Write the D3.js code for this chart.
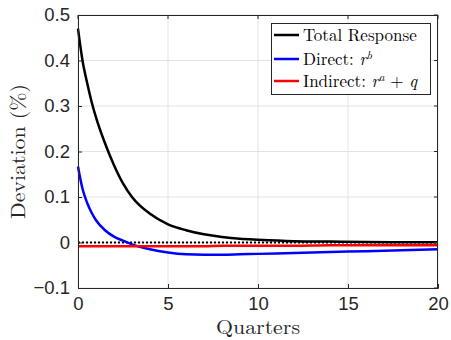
<!DOCTYPE html>
<html>
<head>
<meta charset="utf-8">
<script src="https://cdn.jsdelivr.net/npm/d3@7"></script>
<style>
  body { margin: 0; background: #fff; }
  svg { display: block; }
</style>
</head>
<body>
<div id="wrapper"></div>
<script>
// Data
const quarters = [0, 0.25, 0.5, 0.75, 1, 1.5, 2, 2.5, 3, 4, 5, 6, 7, 8, 9, 10, 12, 14, 16, 18, 20]
const totalResponse = [0.470, 0.400, 0.352, 0.310, 0.275, 0.218, 0.170, 0.130, 0.100, 0.063, 0.040, 0.027, 0.018, 0.012, 0.008, 0.006, 0.003, 0.002, 0.001, 0.0006, 0.0003]
const directResponse = [0.167, 0.118, 0.088, 0.066, 0.049, 0.027, 0.013, 0.004, -0.004, -0.015, -0.022, -0.026, -0.027, -0.027, -0.026, -0.025, -0.023, -0.021, -0.019, -0.017, -0.015]
const indirectResponse = [-0.008, -0.008, -0.008, -0.008, -0.008, -0.008, -0.008, -0.008, -0.008, -0.008, -0.008, -0.008, -0.008, -0.007, -0.007, -0.007, -0.007, -0.006, -0.006, -0.006, -0.006]
const xTicks = [0, 5, 10, 15, 20]
const yTicks = [-0.1, 0, 0.1, 0.2, 0.3, 0.4, 0.5]

const seriesNames = ["Total Response", "Direct", "Indirect"]
const seriesColors = ["#000000", "#0000ff", "#ff0000"]

function drawChart() {
  const dimensions = {
    width: 451,
    height: 340,
    margin: { top: 15, right: 13, bottom: 52, left: 78 },
  }
  dimensions.boundedWidth = dimensions.width - dimensions.margin.left - dimensions.margin.right
  dimensions.boundedHeight = dimensions.height - dimensions.margin.top - dimensions.margin.bottom

  const wrapper = d3.select("#wrapper")
    .append("svg")
    .attr("width", dimensions.width)
    .attr("height", dimensions.height)

  const bounds = wrapper.append("g")
    .attr("transform", `translate(${dimensions.margin.left},${dimensions.margin.top})`)

  // Scales
  const xScale = d3.scaleLinear()
    .domain([0, 20])
    .range([0, dimensions.boundedWidth])

  const yScale = d3.scaleLinear()
    .domain([-0.1, 0.5])
    .range([dimensions.boundedHeight, 0])

  const axisColor = "#262626"
  const tickFont = "'Liberation Sans', Arial, sans-serif"
  const serifFont = "'Latin Modern Roman', 'CMU Serif', 'DejaVu Serif', serif"

  // Grid
  const grid = bounds.append("g")
  grid.selectAll(".gx")
    .data(xTicks)
    .enter().append("line")
    .attr("x1", d => xScale(d))
    .attr("x2", d => xScale(d))
    .attr("y1", 0)
    .attr("y2", dimensions.boundedHeight)
    .attr("stroke", "#e3e3e3")
    .attr("stroke-width", 1)
  grid.selectAll(".gy")
    .data(yTicks)
    .enter().append("line")
    .attr("x1", 0)
    .attr("x2", dimensions.boundedWidth)
    .attr("y1", d => yScale(d))
    .attr("y2", d => yScale(d))
    .attr("stroke", "#e3e3e3")
    .attr("stroke-width", 1)

  // Lines
  const lineGen = values => d3.line()
    .x((d, i) => xScale(quarters[i]))
    .y(d => yScale(d))
    .curve(d3.curveMonotoneX)(values)

  const allSeries = [totalResponse, directResponse, indirectResponse]

  // zero reference
  bounds.append("line")
    .attr("x1", xScale(0))
    .attr("x2", xScale(20))
    .attr("y1", yScale(0))
    .attr("y2", yScale(0))
    .attr("stroke", "#000")
    .attr("stroke-width", 2)
    .attr("stroke-dasharray", "2,2")

  bounds.selectAll(".series")
    .data(allSeries)
    .enter().append("path")
    .attr("d", d => lineGen(d))
    .attr("fill", "none")
    .attr("stroke", (d, i) => seriesColors[i])
    .attr("stroke-width", 2.5)

  // Axes
  const xAxisGenerator = d3.axisBottom(xScale)
    .tickValues(xTicks)
    .tickSize(-4)
    .tickPadding(9)
    .tickFormat(d3.format("d"))

  const xAxis = bounds.append("g")
    .attr("transform", `translate(0,${dimensions.boundedHeight})`)
    .call(xAxisGenerator)

  const yAxisGenerator = d3.axisLeft(yScale)
    .tickValues(yTicks)
    .tickSize(-4)
    .tickPadding(8)
    .tickFormat(d => d === 0 ? "0" : d3.format(".1f")(d))

  const yAxis = bounds.append("g")
    .call(yAxisGenerator)

  ;[xAxis, yAxis].forEach(ax => {
    ax.select(".domain").attr("stroke", axisColor)
    ax.selectAll(".tick line").attr("stroke", axisColor)
    ax.selectAll(".tick text")
      .attr("fill", axisColor)
      .style("font-family", tickFont)
      .style("font-size", "18.5px")
  })

  // box top & right
  bounds.append("line")
    .attr("x1", 0).attr("x2", dimensions.boundedWidth)
    .attr("y1", 0.5).attr("y2", 0.5)
    .attr("stroke", axisColor)
  bounds.append("line")
    .attr("x1", dimensions.boundedWidth - 0.5).attr("x2", dimensions.boundedWidth - 0.5)
    .attr("y1", 0).attr("y2", dimensions.boundedHeight)
    .attr("stroke", axisColor)
  bounds.selectAll(".rt")
    .data(yTicks)
    .enter().append("line")
    .attr("x1", dimensions.boundedWidth)
    .attr("x2", dimensions.boundedWidth - 4)
    .attr("y1", d => yScale(d))
    .attr("y2", d => yScale(d))
    .attr("stroke", axisColor)
  bounds.selectAll(".tt")
    .data(xTicks)
    .enter().append("line")
    .attr("x1", d => xScale(d))
    .attr("x2", d => xScale(d))
    .attr("y1", 0)
    .attr("y2", 4)
    .attr("stroke", axisColor)

  // Axis labels
  wrapper.append("text")
    .attr("x", dimensions.margin.left + dimensions.boundedWidth / 2)
    .attr("y", 334)
    .attr("text-anchor", "middle")
    .attr("fill", axisColor)
    .attr("textLength", 84)
    .attr("lengthAdjust", "spacingAndGlyphs")
    .style("font-family", serifFont)
    .style("font-size", "19.5px")
    .text("Quarters")

  wrapper.append("text")
    .attr("transform", `translate(25,${dimensions.margin.top + dimensions.boundedHeight / 2}) rotate(-90)`)
    .attr("text-anchor", "middle")
    .attr("fill", axisColor)
    .attr("textLength", 135)
    .attr("lengthAdjust", "spacingAndGlyphs")
    .style("font-family", serifFont)
    .style("font-size", "20.5px")
    .text("Deviation (%)")

  // Legend
  const legend = wrapper.append("g")
    .attr("transform", "translate(271,23)")

  legend.append("rect")
    .attr("x", 0.5)
    .attr("y", 0.5)
    .attr("width", 159)
    .attr("height", 71)
    .attr("fill", "#fff")
    .attr("stroke", axisColor)
    .attr("stroke-width", 1)

  const rowY = [12, 36, 58]
  const rows = legend.selectAll(".row")
    .data(seriesNames)
    .enter().append("g")
    .attr("transform", (d, i) => `translate(0,${rowY[i]})`)

  rows.append("line")
    .attr("x1", 3)
    .attr("x2", 28)
    .attr("y1", 0)
    .attr("y2", 0)
    .attr("stroke", (d, i) => seriesColors[i])
    .attr("stroke-width", 2.5)

  const labels = rows.append("text")
    .attr("x", 32)
    .attr("y", 6)
    .attr("fill", "#000")
    .style("font-family", serifFont)
    .style("font-size", "17px")

  labels.each(function (d, i) {
    const t = d3.select(this)
    if (i === 0) {
      t.text(d)
    } else if (i === 1) {
      t.append("tspan").text("Direct: ")
      t.append("tspan").attr("font-style", "italic").text("r")
      t.append("tspan").attr("font-style", "italic").attr("font-size", "11.5px").attr("dy", -6).text("b")
    } else {
      t.append("tspan").text("Indirect: ")
      t.append("tspan").attr("font-style", "italic").text("r")
      t.append("tspan").attr("font-style", "italic").attr("font-size", "11.5px").attr("dy", -6).text("a")
      t.append("tspan").attr("dy", 6).text(" + ")
      t.append("tspan").attr("font-style", "italic").text("q")
    }
  })
}
drawChart()
</script>
</body>
</html>
